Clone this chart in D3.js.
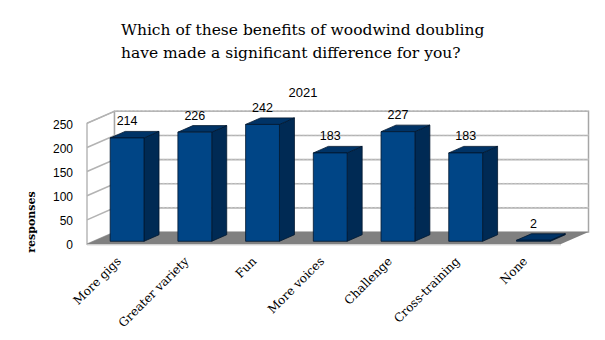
<!DOCTYPE html>
<html><head><meta charset="utf-8">
<script src="https://cdn.jsdelivr.net/npm/d3@7"></script>
<style>body{margin:0;background:#fff}svg{display:block}</style>
</head><body>
<svg id="c" width="605" height="340"></svg>
<script>
const categories = ["More gigs","Greater variety","Fun","More voices","Challenge","Cross-training","None"];
const values = [214,226,242,183,227,183,2];
const yTicks = [0,50,100,150,200,250];
const titleLines = ["Which of these benefits of woodwind doubling","have made a significant difference for you?"];
const seriesName = "2021";
const yLabel = "responses";

const svg = d3.select("#c");
const X0 = 87, X1 = 561, DX = 27.5, DY = -12;
const x = d3.scaleBand().domain(categories).range([X0, X1]).paddingInner(0.5).paddingOuter(0.25);
const y = d3.scaleLinear().domain([0,250]).range([244, 123.3]);
const fF = 0.227, fB = 0.772;
const P = (px, py, f) => [px + DX*f, py + DY*f];

const g = svg.append("g");
// left side wall
g.append("polygon").attr("points", [[X0,y(0)],[X0,y(250)],P(X0,y(250),1),P(X0,y(0),1)].join(" "))
  .attr("fill","#fff").attr("stroke","#a6a6a6").attr("stroke-width",1.2);
// back wall
g.append("polygon").attr("points", [P(X0,y(0),1),P(X0,y(250),1),P(X1,y(250),1),P(X1,y(0),1)].join(" "))
  .attr("fill","#fff").attr("stroke","#a6a6a6").attr("stroke-width",1.5);
// gridlines
yTicks.forEach(t => {
  if (t === 0) return;
  const a = [X0, y(t)], b = P(X0, y(t), 1), c = P(X1, y(t), 1);
  g.append("polyline").attr("points", [a,b,c].join(" ")).attr("fill","none")
   .attr("stroke","#b3b3b3").attr("stroke-width",1.6);
  g.append("line").attr("x1",b[0]).attr("y1",b[1]-0.6).attr("x2",c[0]).attr("y2",c[1]-0.6)
   .attr("stroke","#e0e0e0").attr("stroke-width",0.6).attr("stroke-dasharray","2,2");
});
// floor
g.append("polygon").attr("points", [[X0,y(0)],[X1,y(0)],P(X1,y(0),1),P(X0,y(0),1)].join(" "))
  .attr("fill","#808080");
g.append("line").attr("x1",X0).attr("y1",y(0)+0.8).attr("x2",X1).attr("y2",y(0)+0.8)
  .attr("stroke","#bdbdbd").attr("stroke-width",1);

// bars
const bars = g.selectAll("g.bar").data(categories.map((c,i)=>({c, v: values[i]}))).join("g");
bars.each(function(d){
  const s = d3.select(this);
  const xl = x(d.c), xr = xl + x.bandwidth();
  const yb = y(0), yt = y(d.v);
  const fl = P(xl,yt,fF), fr = P(xr,yt,fF), br = P(xr,yt,fB), bl = P(xl,yt,fB);
  const frb = P(xr,yb,fF), brb = P(xr,yb,fB), flb = P(xl,yb,fF);
  s.append("polygon").attr("points",[fr,br,brb,frb].join(" "))
   .attr("fill","#002a54").attr("stroke","#00172e").attr("stroke-width",0.8).attr("stroke-linejoin","round");
  s.append("polygon").attr("points",[fl,fr,br,bl].join(" "))
   .attr("fill","#003366").attr("stroke","#00172e").attr("stroke-width",0.8).attr("stroke-linejoin","round");
  s.append("polygon").attr("points",[flb,fl,fr,frb].join(" "))
   .attr("fill","#004586").attr("stroke","#00172e").attr("stroke-width",0.8);
  s.append("text").attr("x",(xl+xr)/2 + DX*fF).attr("y",bl[1]-6)
   .attr("text-anchor","middle").attr("font-family","Liberation Sans, Arial, sans-serif")
   .attr("font-size",12.5).attr("fill","#000").text(d.v);
});

// y tick labels
svg.append("g").selectAll("text").data(yTicks).join("text")
  .attr("x",73).attr("y",d=>y(d)+1).attr("dy","0.35em").attr("text-anchor","end")
  .attr("font-family","Liberation Sans, Arial, sans-serif").attr("font-size",12).text(d=>d);

// x labels
svg.append("g").selectAll("text").data(categories).join("text")
  .attr("transform",d=>`translate(${x(d)+x.bandwidth()/2+1},${262}) rotate(-45)`)
  .attr("text-anchor","end").attr("font-family","DejaVu Serif, serif").attr("font-size",12)
  .text(d=>d);

// y axis label
svg.append("text").attr("transform","translate(35,222) rotate(-90)").attr("text-anchor","middle")
  .attr("font-family","DejaVu Serif, serif").attr("font-weight","bold").attr("font-size",11).text(yLabel);

// title
svg.append("g").selectAll("text").data(titleLines).join("text")
  .attr("x",121).attr("y",(d,i)=>35+i*22.5)
  .attr("font-family","DejaVu Serif, serif").attr("font-size",15.5).text(d=>d);
svg.append("text").attr("x",303).attr("y",96.5).attr("text-anchor","middle")
  .attr("font-family","Liberation Sans, Arial, sans-serif").attr("font-size",13).text(seriesName);
</script>
</body></html>
